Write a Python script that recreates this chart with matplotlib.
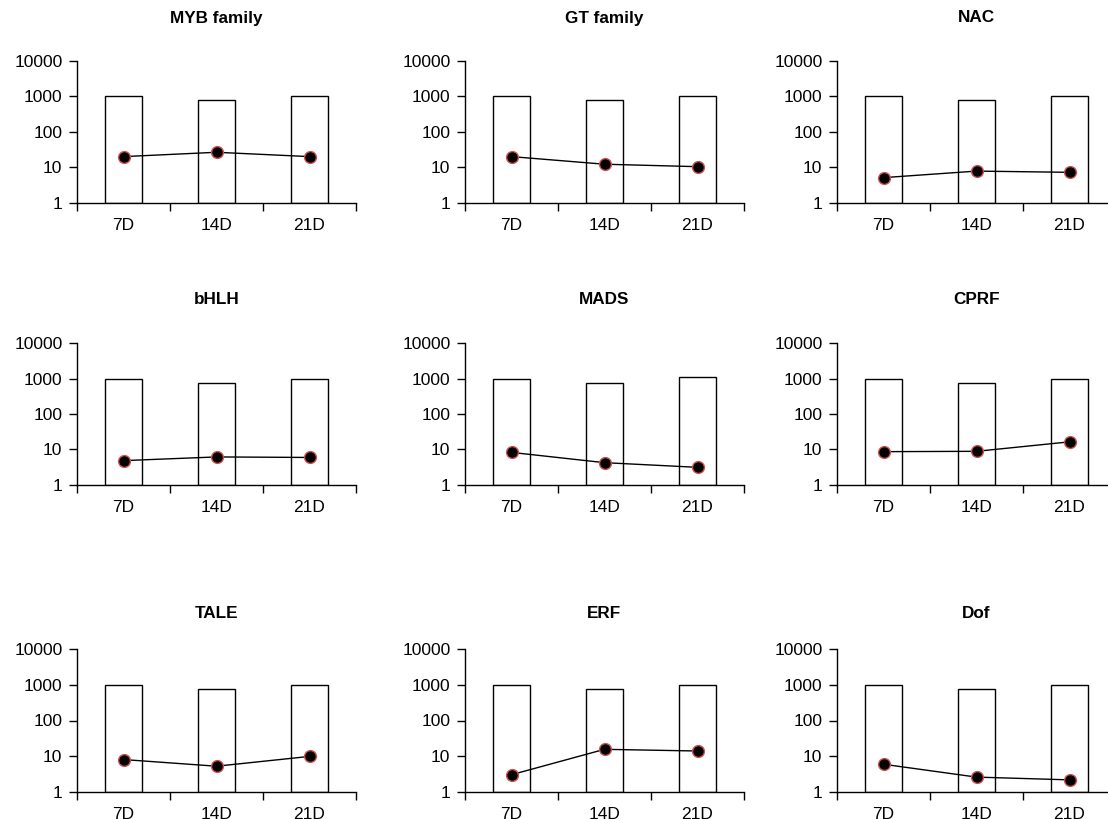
import numpy as np
import matplotlib
matplotlib.use('Agg')
import matplotlib.pyplot as plt

plt.rcParams['font.family'] = ['Liberation Sans', 'DejaVu Sans']

days = ['7D', '14D', '21D']
families = ['MYB family', 'GT family', 'NAC',
            'bHLH', 'MADS', 'CPRF',
            'TALE', 'ERF', 'Dof']

# bar heights (total counts) per panel
bars_default = [1000, 770, 1000]
bars_mads = [980, 770, 1130]

# per-family point values
myb = [20, 26.5, 20]
gt = [20, 12.2, 10.4]
nac = [5.1, 7.8, 7.2]
bhlh = [4.8, 6.1, 5.9]
mads = [8.2, 4.2, 3.1]
cprf = [8.6, 8.8, 16.3]
tale = [8.0, 5.2, 9.8]
erf = [3.0, 15.5, 13.9]
dof = [5.9, 2.57, 2.15]

points = [myb, gt, nac, bhlh, mads, cprf, tale, erf, dof]
bars = [bars_default, bars_default, bars_default,
        bars_default, bars_mads, bars_default,
        bars_default, bars_default, bars_default]

W, H = 1108, 819
fig = plt.figure(figsize=(W / 100, H / 100), dpi=100)

# panel geometry in pixels
lefts = [77, 465, 837]
tops = [61, 343.3, 649.3]
bottoms = [202.7, 484.7, 791.7]
title_y = [18, 300, 613]
aw = 279

for i, name in enumerate(families):
  r, c = divmod(i, 3)
  ax = fig.add_axes([lefts[c] / W, 1 - bottoms[r] / H, aw / W, (bottoms[r] - tops[r]) / H])
  x = np.arange(3) + 0.5
  ax.bar(x, np.array(bars[i]) - 1, width=0.395, bottom=1, color='white',
         edgecolor='black', linewidth=1.0, zorder=2)
  ax.plot(x, points[i], '-', color='black', linewidth=1.0, zorder=3)
  ax.plot(x, points[i], 'o', markersize=8.5, markerfacecolor='black',
          markeredgecolor='#d05050', markeredgewidth=1.0, zorder=4)
  ax.set_yscale('log')
  ax.set_ylim(1, 10000)
  ax.set_xlim(0, 3)
  ax.set_yticks([1, 10, 100, 1000, 10000])
  ax.set_yticklabels(['1', '10', '100', '1000', '10000'])
  ax.yaxis.set_minor_locator(matplotlib.ticker.NullLocator())
  ax.set_xticks([0, 1, 2, 3])
  ax.set_xticklabels([])
  ax.set_xticks(x, minor=True)
  ax.set_xticklabels(days, minor=True)
  ax.tick_params(axis='x', which='minor', length=0, pad=11, labelsize=12.5)
  ax.tick_params(axis='x', which='major', length=6, width=1, direction='out')
  ax.tick_params(axis='y', length=6, width=1, labelsize=12.5, pad=4.5)
  for s in ['top', 'right']:
    ax.spines[s].set_visible(False)
  for s in ['left', 'bottom']:
    ax.spines[s].set_linewidth(1.0)
  ax.spines['bottom'].set_zorder(5)
  fig.text((lefts[c] + aw / 2) / W, 1 - title_y[r] / H, name, fontsize=12.3,
           fontweight='bold', ha='center', va='center')

fig.savefig('out.png', dpi=100)
